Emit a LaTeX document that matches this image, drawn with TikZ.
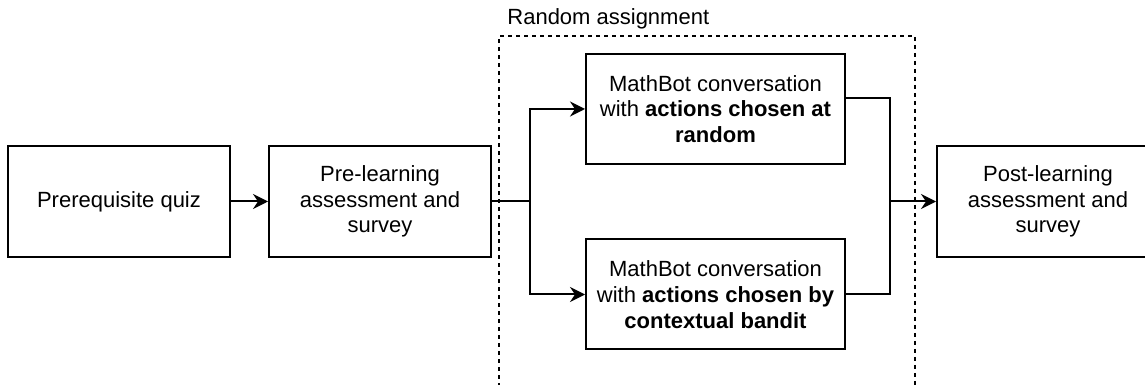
\documentclass[tikz,border=0pt]{standalone}
\usepackage{fontspec}
\setmainfont{Liberation Sans}
\usepackage{tikz}
\usetikzlibrary{calc,positioning,arrows.meta}

\begin{document}
\begin{tikzpicture}[node distance=18.5pt,
    box/.style={rectangle,draw,line width=1pt,
                minimum width=111pt,minimum height=55.5pt,
                align=center,font=\fontsize{11}{12.9}\selectfont},
    botbox/.style={box,minimum width=129.5pt,minimum height=55pt},
    ln/.style={line width=1pt},
    arr/.style={ln,-{Stealth[length=7.5pt,width=7.5pt,inset=2.5pt]}},
    grp/.style={line width=0.6pt,dash pattern=on 2pt off 2pt}]
  \useasboundingbox (0,0) rectangle (572.5pt,192.5pt);
  \node[box] (prq) at (59.5pt,91.75pt) {Prerequisite quiz};
  \node[box,right=of prq] (pre) {Pre-learning\\assessment and\\survey};
  \node[botbox,right=46.5pt of pre,yshift=46.25pt] (rnd) {MathBot conversation\\
    with \textbf{actions chosen at}\\\textbf{random}};
  \node[botbox,right=46.5pt of pre,yshift=-46.5pt] (bnd) {MathBot conversation\\
    with \textbf{actions chosen by}\\\textbf{contextual bandit}};
  \node[box,right=222pt of pre] (post) {Post-learning\\assessment and\\survey};
  \coordinate (spl) at ($(pre.east)+(19pt,0)$);
  \coordinate (mrg) at ($(pre.east)+(199pt,0)$);
  \draw[grp] (249.5pt,-1pt) |- (457.5pt,174.5pt) -- (457.5pt,-1pt);
  \node[anchor=base west,inner sep=0pt,font=\fontsize{11}{12.9}\selectfont]
    (lbl) at (253.5pt,180pt) {Random assignment};
  \draw[arr] (prq) -- (pre);
  \draw[ln] (pre.east) -- (spl);
  \draw[arr] (spl) |- (rnd.west);
  \draw[arr] (spl) |- (bnd.west);
  \draw[ln] ([yshift=5.5pt]rnd.east) -| (mrg) |- (bnd.east);
  \draw[arr] (mrg) -- (post.west);
\end{tikzpicture}
\end{document}
